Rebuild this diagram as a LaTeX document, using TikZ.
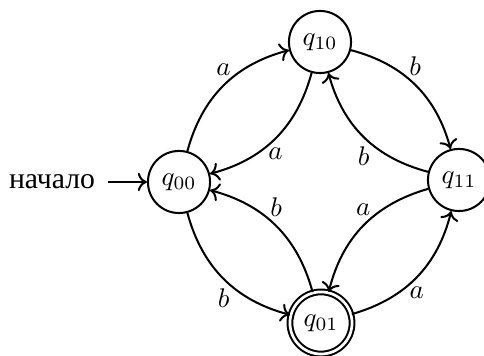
\documentclass[tikz,border=0pt]{standalone}
\usepackage{fontspec}
\newfontfamily\cyrfont{Liberation Serif}
\usetikzlibrary{arrows.meta}
\begin{document}
\begin{tikzpicture}[
    x=0.3704pt, y=0.3704pt,
    line width=0.75pt,
    >={To[length=3.4pt,width=6.8pt]},
    state/.style={circle, draw, minimum size=23pt, inner sep=0pt},
    final/.style={state, double, double distance=1pt}
  ]
  \useasboundingbox (0,0) rectangle (484,356);

  % states
  \node[state] (q00) at (179,174) {$q_{00}$};
  \node[state] (q10) at (320,314) {$q_{10}$};
  \node[state] (q11) at (459,176) {$q_{11}$};
  \node[final] (q01) at (321,33) {$q_{01}$};

  % start marker
  \node[inner xsep=4.4pt, inner ysep=0pt] (start) at (52,174)
    {\cyrfont\fontsize{11}{13}\selectfont начало};
  \draw[->] (start) -- (q00);

  % transitions
  \draw[->] (q00) to[bend left=30]  node[above] {$a$} (q10);
  \draw[->] (q10) to[bend left=30]  node[below] {$a$} (q00);
  \draw[->] (q10) to[bend left=30]  node[above] {$b$} (q11);
  \draw[->] (q11) to[bend left=30]  node[below] {$b$} (q10);
  \draw[->] (q11) to[bend right=30] node[above] {$a$} (q01);
  \draw[->] (q01) to[bend right=30] node[below] {$a$} (q11);
  \draw[->] (q01) to[bend right=30] node[above] {$b$} (q00);
  \draw[->] (q00) to[bend right=30] node[below] {$b$} (q01);
\end{tikzpicture}
\end{document}
